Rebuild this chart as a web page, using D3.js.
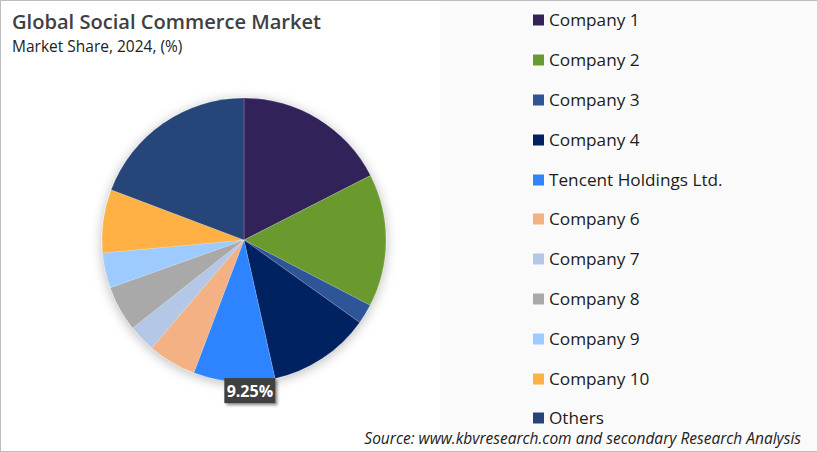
<!DOCTYPE html>
<html>
<head>
<meta charset="utf-8">
<script src="https://cdn.jsdelivr.net/npm/d3@7/dist/d3.min.js"></script>
<style>
  html, body { margin: 0; padding: 0; background: #fff; }
  svg { display: block; }
  text { font-family: "Open Sans", "Noto Sans", sans-serif; }
</style>
</head>
<body>
<div id="chart"></div>
<script>
const companies = ["Company 1", "Company 2", "Company 3", "Company 4", "Tencent Holdings Ltd.",
  "Company 6", "Company 7", "Company 8", "Company 9", "Company 10", "Others"]
const shares = [17.5, 15.1, 2.25, 11.65, 9.25, 5.5, 3.1, 5.2, 4.0, 7.2, 19.25]
const colors = ["#33235a", "#6a9a2f", "#2f5597", "#002060", "#2e83ff",
  "#f4b183", "#b4c7e7", "#a9a9a9", "#9dcbff", "#ffb145", "#264478"]
const labelled = ["Tencent Holdings Ltd."]

const width = 817
const height = 452
const cx = 244
const cy = 240
const radius = 142

const svg = d3.select("#chart")
  .append("svg")
  .attr("width", width)
  .attr("height", height)

const defs = svg.append("defs")
const blur = defs.append("filter").attr("id", "pieShadow")
  .attr("x", "-20%").attr("y", "-20%").attr("width", "140%").attr("height", "140%")
blur.append("feDropShadow")
  .attr("dx", 0).attr("dy", 2).attr("stdDeviation", 6)
  .attr("flood-color", "#000").attr("flood-opacity", 0.28)
const tagShadow = defs.append("filter").attr("id", "tagShadow")
  .attr("x", "-20%").attr("y", "-30%").attr("width", "140%").attr("height", "170%")
tagShadow.append("feDropShadow")
  .attr("dx", 2).attr("dy", 2).attr("stdDeviation", 1.5)
  .attr("flood-color", "#000").attr("flood-opacity", 0.45)

// backgrounds and the thin frame of the screenshot
svg.append("rect").attr("width", width).attr("height", height).attr("fill", "#fff")
svg.append("rect").attr("x", 440).attr("y", 0).attr("width", width - 440).attr("height", height).attr("fill", "#fafafa")
svg.append("rect").attr("x", 0).attr("y", 0).attr("width", width).attr("height", 1).attr("fill", "#bdbdbd")
svg.append("rect").attr("x", 0).attr("y", 0).attr("width", 1).attr("height", height).attr("fill", "#bdbdbd")
svg.append("rect").attr("x", 0).attr("y", height - 1).attr("width", width).attr("height", 1).attr("fill", "#bdbdbd")

svg.append("text").attr("x", 12).attr("y", 29)
  .attr("font-size", 20.1).attr("font-weight", 600).attr("fill", "#404040")
  .text("Global Social Commerce Market")
svg.append("text").attr("x", 12).attr("y", 52)
  .attr("font-size", 15.5).attr("fill", "#222")
  .text("Market Share, 2024, (%)")

const pie = d3.pie().sort(null).value(d => d.share)
const arc = d3.arc().innerRadius(0).outerRadius(radius)
const data = pie(companies.map((name, i) => ({ name, share: shares[i], color: colors[i] })))

const pieG = svg.append("g")
  .attr("transform", `translate(${cx},${cy})`)
  .attr("filter", "url(#pieShadow)")

pieG.selectAll("path")
  .data(data)
  .join("path")
  .attr("d", arc)
  .attr("fill", d => d.data.color)
  .attr("stroke", "#fff")
  .attr("stroke-opacity", 0.35)
  .attr("stroke-width", 0.5)

// value tag hangs off the rim of the slice, pushed right like the original
const tags = svg.append("g").selectAll("g")
  .data(data.filter(d => labelled.includes(d.data.name)))
  .join("g")
  .attr("transform", d => {
    const a = (d.startAngle + d.endAngle) / 2
    return `translate(${cx + Math.sin(a) * (radius + 9) + 16},${cy - Math.cos(a) * (radius + 9)})`
  })

tags.append("rect")
  .attr("x", -25).attr("y", -12.5).attr("width", 51).attr("height", 25)
  .attr("fill", "#3f3f3f")
  .attr("filter", "url(#tagShadow)")
tags.append("text")
  .attr("x", 0.5).attr("y", 6)
  .attr("text-anchor", "middle")
  .attr("font-size", 16).attr("font-weight", 700).attr("fill", "#fff")
  .text(d => `${d.data.share}%`)

const legendY = d3.scalePoint().domain(companies).range([20.4, 418.4])

const legend = svg.append("g").selectAll("g")
  .data(companies)
  .join("g")
  .attr("transform", d => `translate(533,${Math.round(legendY(d))})`)

legend.append("rect")
  .attr("x", 0).attr("y", -5.5).attr("width", 11).attr("height", 11)
  .attr("fill", (d, i) => colors[i])
legend.append("text")
  .attr("x", 16).attr("y", 6)
  .attr("font-size", 17.2).attr("fill", "#1c1c1c")
  .text(d => d)

svg.append("text").attr("x", 801).attr("y", 444)
  .attr("text-anchor", "end")
  .attr("font-size", 15.5).attr("font-style", "italic").attr("fill", "#222")
  .text("Source: www.kbvresearch.com and secondary Research Analysis")
</script>
</body>
</html>
